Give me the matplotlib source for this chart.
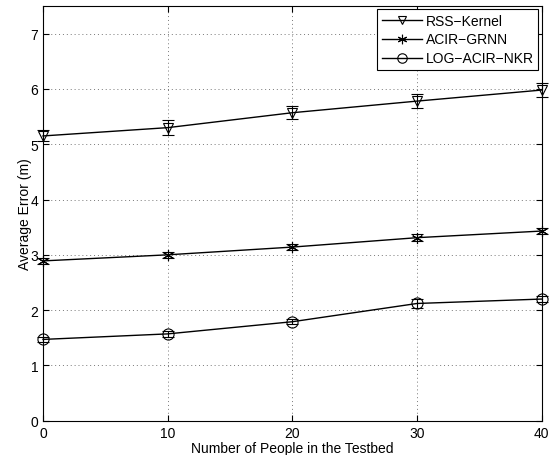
import matplotlib
matplotlib.use("Agg")
import matplotlib.pyplot as plt
import numpy as np

plt.rcParams['font.family'] = ['Liberation Sans', 'DejaVu Sans']

people = [0, 10, 20, 30, 40]

rss_kernel = [5.15, 5.30, 5.57, 5.78, 5.98]
rss_err = [0.10, 0.13, 0.12, 0.13, 0.12]

acir_grnn = [2.89, 3.00, 3.14, 3.31, 3.43]
acir_err = [0.05, 0.06, 0.06, 0.06, 0.05]

log_acir_nkr = [1.47, 1.57, 1.79, 2.12, 2.20]
log_err = [0.05, 0.06, 0.05, 0.08, 0.06]

fig = plt.figure(figsize=(5.54, 4.56), dpi=100)
ax = fig.add_axes([43/554, 1-421.7/456, (541.7-43)/554, (421.7-7)/456])

series = [
    (rss_kernel, rss_err, 'v', 'RSS\u2212Kernel', 7.5),
    (acir_grnn, acir_err, (6, 2, 0), 'ACIR\u2212GRNN', 8),
    (log_acir_nkr, log_err, 'o', 'LOG\u2212ACIR\u2212NKR', 8),
]
for vals, err, mk, lab, ms in series:
    # error bars without legend entry, then the line with markers
    ax.errorbar(people, vals, yerr=err, fmt='none', ecolor='black',
                elinewidth=0.8, capsize=4, capthick=0.8, clip_on=False)
    ax.plot(people, vals, color='black', lw=1.0, marker=mk, markersize=ms,
            markerfacecolor='none', markeredgecolor='black',
            markeredgewidth=0.8, label=lab, clip_on=False)

ax.set_xlim(0, 40)
ax.set_ylim(0, 7.5)
ax.set_xticks([0, 10, 20, 30, 40])
ax.set_yticks([0, 1, 2, 3, 4, 5, 6, 7])
ax.grid(True, linestyle=(0, (1, 3)), color='#777777', linewidth=0.7)
ax.tick_params(direction='in', top=True, right=True, labelsize=10, length=4)
ax.set_xlabel('Number of People in the Testbed', fontsize=10, labelpad=1)
ax.set_ylabel('Average Error (m)', fontsize=10, labelpad=-1)

leg = ax.legend(loc='upper right', fontsize=10, fancybox=False, framealpha=1,
                edgecolor='black', borderaxespad=0.25, handlelength=2.9,
                borderpad=0.3, labelspacing=0.35, handletextpad=0.3,
                markerscale=0.85)
leg.get_frame().set_linewidth(0.8)

fig.savefig('out.png', dpi=100)
